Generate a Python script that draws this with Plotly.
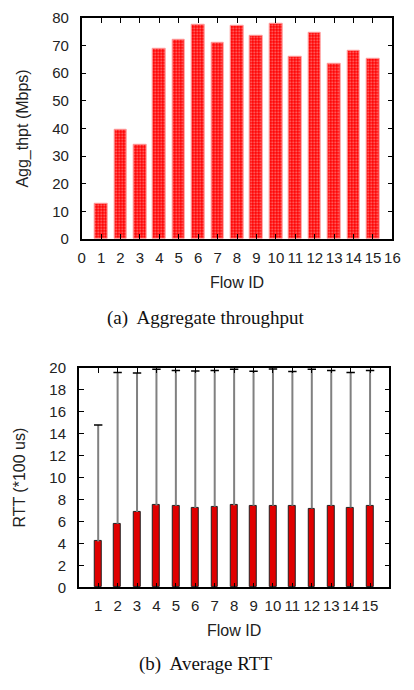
import plotly.graph_objects as go

flow_ids = list(range(1, 16))
agg_thpt = [12.7, 39.6, 34.1, 68.7, 72.1, 77.3, 71.1, 77.1, 73.5, 77.9, 65.8, 74.6, 63.4, 68.2, 65.2]
rtt_avg = [4.19, 5.79, 6.88, 7.47, 7.44, 7.24, 7.36, 7.47, 7.44, 7.44, 7.44, 7.18, 7.44, 7.27, 7.44]
rtt_max = [14.8, 19.59, 19.53, 19.88, 19.76, 19.73, 19.76, 19.88, 19.7, 19.9, 19.67, 19.88, 19.76, 19.59, 19.76]
top_ticks = list(range(0, 17))

SANS = "Liberation Sans, Arial, sans-serif"
SERIF = "Liberation Serif, Times New Roman, serif"

fig = go.Figure()

fig.add_trace(go.Bar(
    x=flow_ids, y=agg_thpt, width=0.65,
    marker=dict(color="#ff0000",
                line=dict(color="#ff9c9c", width=1),
                pattern=dict(shape=".", bgcolor="#ff0000", fgcolor="#ffffff",
                             size=3, solidity=0.3)),
    xaxis="x", yaxis="y", showlegend=False,
))

fig.add_trace(go.Bar(
    x=flow_ids, y=rtt_avg, width=0.35,
    marker=dict(color="#e00000", line=dict(color="#222222", width=1)),
    error_y=dict(type="data", symmetric=False,
                 array=[m - v for m, v in zip(rtt_max, rtt_avg)],
                 arrayminus=[0] * len(rtt_avg),
                 color="#808080", thickness=2, width=0),
    xaxis="x2", yaxis="y2", showlegend=False,
))

fig.add_trace(go.Scatter(
    x=flow_ids, y=rtt_max, mode="markers",
    marker=dict(symbol="line-ew", size=6, line=dict(color="#000000", width=1.5)),
    xaxis="x2", yaxis="y2", showlegend=False, hoverinfo="skip",
))

axis_common = dict(showline=True, linecolor="#000000", linewidth=1.5, mirror="ticks",
                   ticks="inside", ticklen=5, tickcolor="#000000", tickwidth=1,
                   showgrid=False, zeroline=False,
                   tickfont=dict(family=SANS, size=15, color="#222222"))

title_font = dict(family=SANS, size=16, color="#222222")

fig.update_layout(
    width=414, height=690,
    margin=dict(l=0, r=0, t=0, b=0),
    paper_bgcolor="#ffffff", plot_bgcolor="#ffffff",
    bargap=0,
    xaxis=dict(domain=[80/414, 400/414], range=[0, 16], tickvals=top_ticks,
               anchor="y", ticklabelstandoff=4,
               title=dict(text="Flow ID", font=title_font, standoff=12),
               **axis_common),
    yaxis=dict(domain=[(690-236)/690, (690-9)/690], range=[0, 80], dtick=10,
               anchor="x", ticklabelstandoff=8,
               title=dict(text="Agg_thpt (Mbps)", font=title_font, standoff=20),
               **axis_common),
    xaxis2=dict(domain=[77/414, 397/414], range=[0, 16], tickvals=flow_ids,
                anchor="y2", ticklabelstandoff=4,
                title=dict(text="Flow ID", font=title_font, standoff=12),
                **axis_common),
    yaxis2=dict(domain=[(690-593)/690, (690-368)/690], range=[0, 20], dtick=2,
                anchor="x2", ticklabelstandoff=8,
                title=dict(text="RTT (*100 us)", font=title_font, standoff=20),
                **axis_common),
    annotations=[
        dict(text="(a)  Aggregate throughput", x=208/414, y=(690-317)/690,
             xref="paper", yref="paper", showarrow=False,
             xanchor="center", yanchor="middle",
             font=dict(family=SERIF, size=19, color="#111111")),
        dict(text="(b)  Average RTT", x=208/414, y=(690-672)/690,
             xref="paper", yref="paper", showarrow=False,
             xanchor="center", yanchor="middle",
             font=dict(family=SERIF, size=19, color="#111111")),
    ],
)

fig.write_html("out.html", config={"displayModeBar": False},
               post_script="document.body.style.margin='0';document.body.style.overflow='hidden';")
